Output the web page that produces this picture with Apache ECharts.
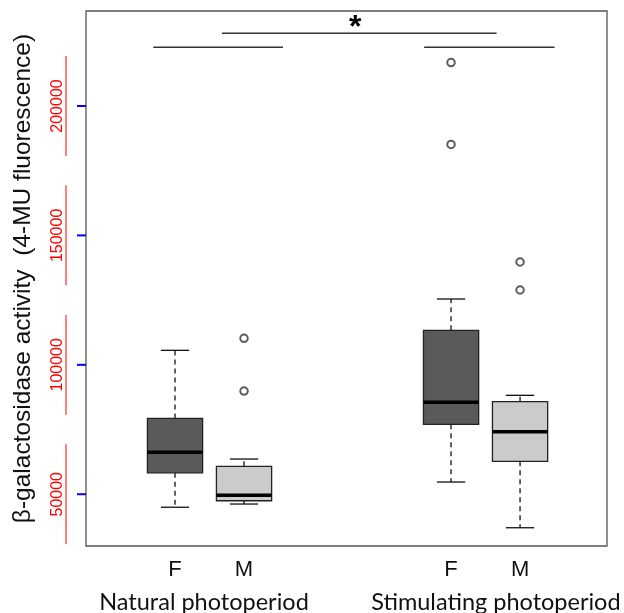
<!DOCTYPE html>
<html>
<head>
<meta charset="utf-8">
<script src="https://cdn.jsdelivr.net/npm/echarts@6/dist/echarts.min.js"></script>
<style>
  html, body { margin: 0; padding: 0; background: #fff; }
  #chart { width: 624px; height: 613px; }
</style>
</head>
<body>
<div id="chart"></div>
<script>
// box positions on the x scale and their labels
var positions = [1, 2, 5, 6];
var sexLabels = ['F', 'M', 'F', 'M'];
var groupNames = ['Natural photoperiod', 'Stimulating photoperiod'];
var groupCentres = [1.42, 5.65];

// five-number summaries
var whiskerLow  = [44976, 46213, 54714, 37055];
var lowerQ      = [58268, 47488, 77009, 62712];
var medians     = [66267, 49574, 85510, 74150];
var upperQ      = [79290, 60780, 113330, 85742];
var whiskerHigh = [105600, 63601, 125425, 88214];
var outliers    = [[], [110239, 89876], [216770, 185162], [139722, 128902]];

// significance bars: [from x, to x, y]
var sigBars = [[0.686, 2.565, 222700], [4.61, 6.50, 222700], [1.68, 5.66, 228100]];
var sigMark = [3.61, 232300];

var yTicks = [50000, 100000, 150000, 200000];

var xMin = -0.29, xMax = 7.26;
var yMin = 30000, yMax = 236700;
var fills = { F: '#5a5a5a', M: '#cbcbcb' };

function createChart() {
    var myChart = echarts.init(document.getElementById('chart'));

    var boxData = positions.map(function (p, i) {
        return [p, whiskerLow[i], lowerQ[i], medians[i], upperQ[i], whiskerHigh[i], i];
    });
    var outlierData = [];
    outliers.forEach(function (list, i) {
        list.forEach(function (v) { outlierData.push([positions[i], v]); });
    });

    function renderBox(params, api) {
        var x = api.value(0);
        var idx = api.value(6);
        var halfBox = 0.4, halfCap = 0.205;
        var low = api.coord([x, api.value(1)]);
        var q1 = api.coord([x, api.value(2)]);
        var q3 = api.coord([x, api.value(4)]);
        var high = api.coord([x, api.value(5)]);
        var bl = api.coord([x - halfBox, api.value(2)]);
        var tr = api.coord([x + halfBox, api.value(4)]);
        var ml = api.coord([x - halfBox, api.value(3)]);
        var mr = api.coord([x + halfBox, api.value(3)]);
        var cl = api.coord([x - halfCap, 0])[0];
        var cr = api.coord([x + halfCap, 0])[0];
        var dash = { stroke: '#111', lineWidth: 1.3, lineDash: [5, 4] };
        var solid = { stroke: '#111', lineWidth: 1.3 };
        return {
            type: 'group',
            children: [
                { type: 'line', shape: { x1: q3[0], y1: q3[1], x2: high[0], y2: high[1] }, style: dash },
                { type: 'line', shape: { x1: q1[0], y1: q1[1], x2: low[0], y2: low[1] }, style: dash },
                { type: 'line', shape: { x1: cl, y1: high[1], x2: cr, y2: high[1] }, style: solid },
                { type: 'line', shape: { x1: cl, y1: low[1], x2: cr, y2: low[1] }, style: solid },
                {
                    type: 'rect',
                    shape: { x: bl[0], y: tr[1], width: tr[0] - bl[0], height: bl[1] - tr[1] },
                    style: { fill: fills[sexLabels[idx]], stroke: '#222', lineWidth: 1.3 }
                },
                { type: 'line', shape: { x1: ml[0], y1: ml[1], x2: mr[0], y2: mr[1] }, style: { stroke: '#000', lineWidth: 3.5 } }
            ]
        };
    }

    function renderBar(params, api) {
        var a = api.coord([api.value(0), api.value(2)]);
        var b = api.coord([api.value(1), api.value(2)]);
        return { type: 'line', shape: { x1: a[0], y1: a[1], x2: b[0], y2: b[1] }, style: { stroke: '#333', lineWidth: 1.3 } };
    }

    function renderMark(params, api) {
        var p = api.coord([api.value(0), api.value(1)]);
        return {
            type: 'text',
            x: p[0], y: p[1] + 6,
            style: { text: '*', fill: '#000', font: 'bold 32px "Liberation Sans", Arial', align: 'center', verticalAlign: 'middle' }
        };
    }

    // y ticks and rotated tick labels, placed on the y scale at the left edge
    function renderYTick(params, api) {
        var p = api.coord([xMin, api.value(0)]);
        return {
            type: 'group',
            children: [
                { type: 'line', shape: { x1: p[0] - 20, y1: p[1] - 50, x2: p[0] - 20, y2: p[1] + 50 }, style: { stroke: 'red', lineWidth: 1 } },
                { type: 'line', shape: { x1: p[0] - 9, y1: p[1], x2: p[0], y2: p[1] }, style: { stroke: 'blue', lineWidth: 2 } },
                {
                    type: 'text',
                    x: p[0] - 20, y: p[1],
                    rotation: Math.PI / 2,
                    style: {
                        text: String(api.value(0)),
                        fill: 'red',
                        font: '16px "Liberation Sans", Arial',
                        align: 'center',
                        verticalAlign: 'bottom'
                    }
                }
            ]
        };
    }

    // group names under the F / M labels
    function renderGroup(params, api) {
        var p = api.coord([api.value(0), yMin]);
        return {
            type: 'text',
            x: p[0], y: p[1] + 44,
            style: {
                text: groupNames[api.value(1)],
                fill: '#111',
                font: '23.5px Lato',
                align: 'center',
                verticalAlign: 'top'
            }
        };
    }

    var option = {
        animation: false,
        backgroundColor: '#fff',
        grid: {
            left: 86, top: 11, right: 17, bottom: 67,
            containLabel: false,
            outerBoundsMode: 'none',
            show: true, borderColor: '#555', borderWidth: 1.3
        },
        xAxis: {
            type: 'value',
            min: xMin, max: xMax,
            axisLine: { show: false, onZero: false },
            axisTick: { show: false },
            splitLine: { show: false },
            axisLabel: {
                customValues: positions,
                formatter: function (v) { return sexLabels[positions.indexOf(v)]; },
                margin: 13,
                color: '#111',
                fontSize: 22,
                fontFamily: '"Liberation Sans", Arial'
            }
        },
        yAxis: {
            type: 'value',
            min: yMin, max: yMax,
            name: 'β-galactosidase activity  (4-MU fluorescence)',
            nameLocation: 'middle',
            nameGap: 50,
            nameTextStyle: { color: '#111', fontSize: 24.5, fontFamily: '"Liberation Sans", Arial' },
            axisLine: { show: false, onZero: false },
            splitLine: { show: false },
            axisTick: { show: false },
            axisLabel: { show: false }
        },
        series: [{
            type: 'custom',
            renderItem: renderBox,
            data: boxData,
            encode: { x: 0, y: [1, 5] },
            z: 2
        }, {
            type: 'scatter',
            data: outlierData,
            symbol: 'emptyCircle',
            symbolSize: 7.5,
            itemStyle: { color: '#333', borderWidth: 0.8 },
            z: 3
        }, {
            type: 'custom',
            renderItem: renderBar,
            data: sigBars,
            encode: { x: [0, 1], y: 2 },
            z: 3
        }, {
            type: 'custom',
            renderItem: renderMark,
            data: [sigMark],
            encode: { x: 0, y: 1 },
            z: 3
        }, {
            type: 'custom',
            renderItem: renderYTick,
            data: yTicks.map(function (v) { return [v]; }),
            encode: { y: 0 },
            clip: false,
            silent: true,
            z: 3
        }, {
            type: 'custom',
            renderItem: renderGroup,
            data: groupCentres.map(function (c, i) { return [c, i]; }),
            encode: { x: 0 },
            clip: false,
            silent: true,
            z: 3
        }]
    };

    myChart.setOption(option);
}

createChart();
</script>
</body>
</html>
